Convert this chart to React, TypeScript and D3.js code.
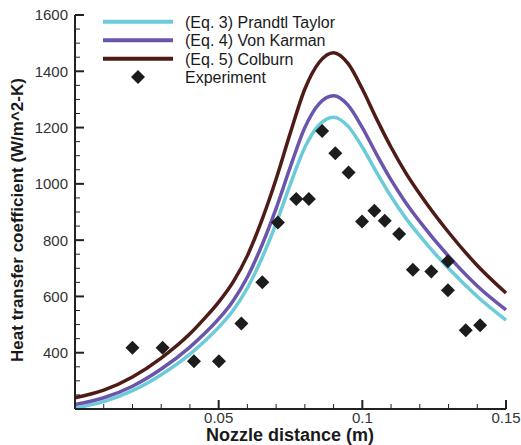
import React from "react";
import * as d3 from "d3";

// ---- Data ----
const curveX = [0, 0.01, 0.02, 0.03, 0.04, 0.045, 0.05, 0.055, 0.06, 0.065, 0.07, 0.075, 0.08, 0.085, 0.09, 0.095, 0.1, 0.105, 0.11, 0.115, 0.12, 0.13, 0.14, 0.15];
const prandtlTaylor = [203, 226, 265, 322, 395, 440, 490, 550, 630, 735, 860, 1000, 1130, 1210, 1237, 1205, 1130, 1040, 955, 880, 815, 700, 600, 516];
const vonKarman = [216, 240, 281, 342, 420, 467, 520, 584, 669, 781, 913, 1062, 1200, 1285, 1313, 1280, 1200, 1104, 1014, 935, 866, 743, 637, 552];
const colburn = [240, 267, 314, 381, 467, 521, 580, 651, 745, 870, 1017, 1183, 1337, 1432, 1466, 1428, 1337, 1230, 1130, 1041, 964, 828, 710, 612];

const expX = [0.02, 0.0305, 0.0414, 0.0501, 0.0579, 0.0652, 0.0706, 0.077, 0.0814, 0.086, 0.0906, 0.0952, 0.0999, 0.1042, 0.1078, 0.1128, 0.1176, 0.124, 0.1298, 0.1298, 0.136, 0.141];
const expY = [418, 418, 370, 370, 504, 650, 863, 946, 946, 1188, 1109, 1040, 866, 904, 869, 822, 695, 689, 725, 622, 480, 498];

const seriesNames = ["(Eq. 3) Prandtl Taylor", "(Eq. 4) Von Karman", "(Eq. 5) Colburn"];
const seriesColors = ["#6ccbd8", "#6a55ac", "#4f1b16"];
const expName = "Experiment";

const xMajorTicks = [0.05, 0.1, 0.15];
const xTickLabels = ["0.05", "0.1", "0.15"];
const yMajorTicks = [400, 600, 800, 1000, 1200, 1400, 1600];
const xTitle = "Nozzle distance (m)";
const yTitle = "Heat transfer coefficient (W/m^2-K)";

const W = 521;
const H = 445;
const FONT = "'Liberation Sans', Arial, Helvetica, sans-serif";

export default function App() {
  const x = d3.scaleLinear().domain([0, 0.15]).range([75, 506]);
  const y = d3.scaleLinear().domain([200, 1600]).range([409, 15]);

  const seriesData = [prandtlTaylor, vonKarman, colburn];
  const line = d3
    .line<number>()
    .x((_, i) => x(curveX[i]))
    .y((d) => y(d))
    .curve(d3.curveMonotoneX);

  const xMinor = d3.range(1, 15).map((i) => i / 100).filter((v) => !xMajorTicks.some((m) => Math.abs(m - v) < 1e-9));
  const yMinor = d3.range(250, 1600, 50).filter((v) => v % 200 !== 0);

  const axisColor = "#222";
  const diamond = (cx: number, cy: number, r = 7) =>
    `M${cx},${cy - r}L${cx + r},${cy}L${cx},${cy + r}L${cx - r},${cy}Z`;

  const legendY = [21.7, 40.3, 58.7];
  const x0 = x(0);
  const y0 = y(200);

  return (
    <svg
      width={W}
      height={H}
      style={{ position: "absolute", left: 0, top: 0, background: "#fff" }}
      fontFamily={FONT}
    >
      <rect width={W} height={H} fill="#fff" />
      {/* curves */}
      {seriesData.map((s, i) => (
        <path key={i} d={line(s) || ""} fill="none" stroke={seriesColors[i]} strokeWidth={3.5} strokeLinejoin="round" />
      ))}
      {/* experiment */}
      {expX.map((v, i) => (
        <path key={i} d={diamond(x(v), y(expY[i]))} fill="#1c1c1c" />
      ))}
      {/* axes */}
      <line x1={x0} y1={y(1600)} x2={x0} y2={y0} stroke={axisColor} strokeWidth={2} />
      <line x1={x0} y1={y0} x2={x(0.15)} y2={y0} stroke={axisColor} strokeWidth={2} />
      {yMajorTicks.map((t) => (
        <g key={t}>
          <line x1={x0} x2={x0 + 9} y1={y(t)} y2={y(t)} stroke={axisColor} strokeWidth={2} />
          <text x={x0 - 7} y={y(t)} dy="0.36em" textAnchor="end" fontSize={15} fill="#333">
            {t}
          </text>
        </g>
      ))}
      {yMinor.map((t) => (
        <line key={t} x1={x0} x2={x0 + 5} y1={y(t)} y2={y(t)} stroke={axisColor} strokeWidth={1} />
      ))}
      {xMajorTicks.map((t, i) => (
        <g key={t}>
          <line x1={x(t)} x2={x(t)} y1={y0} y2={y0 - 9} stroke={axisColor} strokeWidth={2} />
          <text x={x(t)} y={423} textAnchor="middle" fontSize={15} fill="#333">
            {xTickLabels[i]}
          </text>
        </g>
      ))}
      {xMinor.map((t) => (
        <line key={t} x1={x(t)} x2={x(t)} y1={y0} y2={y0 - 5} stroke={axisColor} strokeWidth={1} />
      ))}
      {/* titles */}
      <text x={290} y={441} textAnchor="middle" fontSize={18} fontWeight="bold" fill="#1a1a1a">
        {xTitle}
      </text>
      <text
        transform={`translate(23,${(y(1600) + y0) / 2 + 8}) rotate(-90)`}
        textAnchor="middle"
        fontSize={17}
        fontWeight="bold"
        fill="#1a1a1a"
      >
        {yTitle}
      </text>
      {/* legend */}
      {seriesNames.map((n, i) => (
        <g key={n}>
          <line x1={103} x2={173} y1={legendY[i]} y2={legendY[i]} stroke={seriesColors[i]} strokeWidth={4} />
          <text x={185} y={legendY[i] + 5.8} fontSize={16} fill="#1a1a1a">
            {n}
          </text>
        </g>
      ))}
      <path d={diamond(138, 77)} fill="#1c1c1c" />
      <text x={185} y={82.8} fontSize={16} fill="#1a1a1a">
        {expName}
      </text>
    </svg>
  );
}
